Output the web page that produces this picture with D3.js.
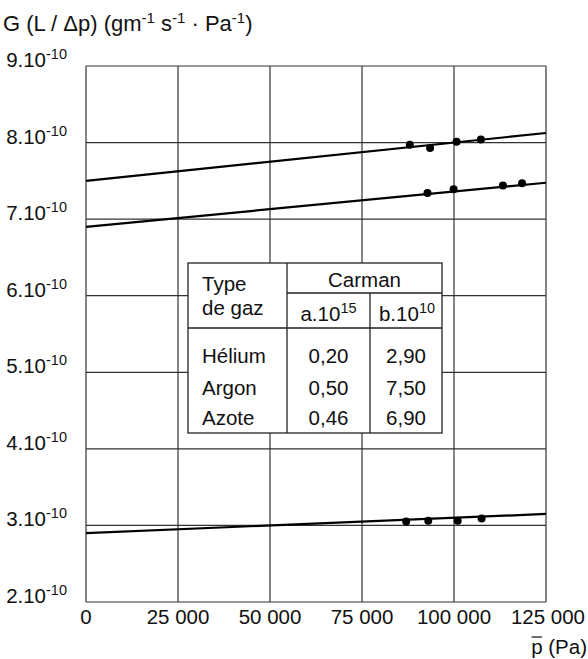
<!DOCTYPE html>
<html>
<head>
<meta charset="utf-8">
<script src="https://cdn.jsdelivr.net/npm/d3@7"></script>
<style>
  body { margin: 0; background: #fff; }
  svg text { font-family: "Liberation Sans", Arial, sans-serif; fill: #111; }
</style>
</head>
<body>
<svg id="chart" width="588" height="659"></svg>
<script>
// Data
const gases = ['Hélium', 'Argon', 'Azote'];
const carmanA = ['0,20', '0,50', '0,46'];   // a.10^15
const carmanB = ['2,90', '7,50', '6,90'];   // b.10^10
const slopes = [0.20, 0.50, 0.46];         // a (x 1e-15)
const intercepts = [2.90, 7.50, 6.90];     // b (x 1e-10)

// measured points, p in Pa, G in 1e-10
const heliumP = [87000, 93000, 101000, 107500];
const heliumG = [3.05, 3.06, 3.06, 3.09];
const argonP = [88000, 93500, 100700, 107300];
const argonG = [7.97, 7.93, 8.01, 8.04];
const azoteP = [92800, 99900, 113300, 118500];
const azoteG = [7.34, 7.39, 7.44, 7.47];

const xTicks = [0, 25000, 50000, 75000, 100000, 125000];
const xTickLabels = ['0', '25 000', '50 000', '75 000', '100 000', '125 000'];
const yTicks = [2, 3, 4, 5, 6, 7, 8, 9];

const fs = 20.5, sup = 14.5;
const svg = d3.select('#chart');

const x = d3.scaleLinear().domain([0, 125000]).range([86, 546]);
const y = d3.scaleLinear().domain([2, 9]).range([602, 66]);

// Grid
const grid = svg.append('g').attr('stroke', '#333').attr('stroke-width', 1.2);
grid.selectAll('line.v').data(xTicks).enter().append('line')
  .attr('x1', d => x(d)).attr('x2', d => x(d))
  .attr('y1', y(9)).attr('y2', y(2));
grid.selectAll('line.h').data(yTicks).enter().append('line')
  .attr('x1', x(0)).attr('x2', x(125000))
  .attr('y1', d => y(d)).attr('y2', d => y(d));

// Y labels
const yl = svg.append('g');
yTicks.forEach(t => {
  const txt = yl.append('text')
    .attr('x', 67).attr('y', y(t) + 1)
    .attr('text-anchor', 'end')
    .attr('font-size', fs);
  txt.append('tspan').text(t + '.10');
  txt.append('tspan').attr('dy', -8).attr('font-size', sup).text('-10');
});

// X labels
svg.append('g').selectAll('text').data(xTicks).enter().append('text')
  .attr('x', (d, i) => i === xTicks.length - 1 ? 585 : x(d))
  .attr('y', 624)
  .attr('text-anchor', (d, i) => i === xTicks.length - 1 ? 'end' : 'middle')
  .attr('font-size', fs)
  .text((d, i) => xTickLabels[i]);

// axis titles
const xt = svg.append('text').attr('x', 587).attr('y', 654)
  .attr('text-anchor', 'end').attr('font-size', fs);
const pSpan = xt.append('tspan').text('p');
xt.append('tspan').text(' (Pa)');
const pb = pSpan.node().getBBox();
svg.append('line').attr('x1', pb.x + 0.5).attr('x2', pb.x + pb.width - 0.5)
  .attr('y1', 637).attr('y2', 637)
  .attr('stroke', '#111').attr('stroke-width', 1.2);

const yt = svg.append('text').attr('x', 3).attr('y', 31).attr('font-size', 22);
yt.append('tspan').text('G (L / Δp) (gm');
yt.append('tspan').attr('dy', -8).attr('font-size', 15).text('-1');
yt.append('tspan').attr('dy', 8).text(' s');
yt.append('tspan').attr('dy', -8).attr('font-size', 15).text('-1');
yt.append('tspan').attr('dy', 8).text(' · Pa');
yt.append('tspan').attr('dy', -8).attr('font-size', 15).text('-1');
yt.append('tspan').attr('dy', 8).text(')');

// Fit lines
const lineG = svg.append('g').attr('stroke', '#000').attr('stroke-width', 2.2);
slopes.forEach((a, i) => {
  const b = intercepts[i];
  lineG.append('line')
    .attr('x1', x(0)).attr('y1', y(b))
    .attr('x2', x(125000)).attr('y2', y(b + a * 125000 * 1e-5));
});

// Points
const series = [[heliumP, heliumG], [argonP, argonG], [azoteP, azoteG]];
series.forEach(([ps, gs]) => {
  svg.append('g').selectAll('circle').data(ps).enter().append('circle')
    .attr('cx', d => x(d)).attr('cy', (d, i) => y(gs[i]))
    .attr('r', 4).attr('fill', '#000');
});

// Table
const tb = svg.append('g');
const tx = [188, 287, 370, 442];
const ty = [263, 293, 328, 433];
tb.append('rect').attr('x', tx[0]).attr('y', ty[0])
  .attr('width', tx[3] - tx[0]).attr('height', ty[3] - ty[0])
  .attr('fill', '#fff').attr('stroke', '#222').attr('stroke-width', 1.3);
const tl = tb.append('g').attr('stroke', '#222').attr('stroke-width', 1.3);
tl.append('line').attr('x1', tx[1]).attr('x2', tx[1]).attr('y1', ty[0]).attr('y2', ty[3]);
tl.append('line').attr('x1', tx[2]).attr('x2', tx[2]).attr('y1', ty[1]).attr('y2', ty[3]);
tl.append('line').attr('x1', tx[1]).attr('x2', tx[3]).attr('y1', ty[1]).attr('y2', ty[1]);
tl.append('line').attr('x1', tx[0]).attr('x2', tx[3]).attr('y1', ty[2]).attr('y2', ty[2]);

tb.append('text').attr('x', 202).attr('y', 291).attr('font-size', fs).text('Type');
tb.append('text').attr('x', 202).attr('y', 315).attr('font-size', fs).text('de gaz');
tb.append('text').attr('x', (tx[1] + tx[3]) / 2).attr('y', 287)
  .attr('text-anchor', 'middle').attr('font-size', fs).text('Carman');
const ha = tb.append('text').attr('x', (tx[1] + tx[2]) / 2).attr('y', 321)
  .attr('text-anchor', 'middle').attr('font-size', fs);
ha.append('tspan').text('a.10');
ha.append('tspan').attr('dy', -8).attr('font-size', sup).text('15');
const hb = tb.append('text').attr('x', (tx[2] + tx[3]) / 2 + 1).attr('y', 321)
  .attr('text-anchor', 'middle').attr('font-size', fs);
hb.append('tspan').text('b.10');
hb.append('tspan').attr('dy', -8).attr('font-size', sup).text('10');

const rowY = [363, 395, 425];
gases.forEach((g, i) => {
  tb.append('text').attr('x', 202).attr('y', rowY[i]).attr('font-size', fs).text(g);
  tb.append('text').attr('x', (tx[1] + tx[2]) / 2).attr('y', rowY[i])
    .attr('text-anchor', 'middle').attr('font-size', fs).text(carmanA[i]);
  tb.append('text').attr('x', (tx[2] + tx[3]) / 2).attr('y', rowY[i])
    .attr('text-anchor', 'middle').attr('font-size', fs).text(carmanB[i]);
});
</script>
</body>
</html>
